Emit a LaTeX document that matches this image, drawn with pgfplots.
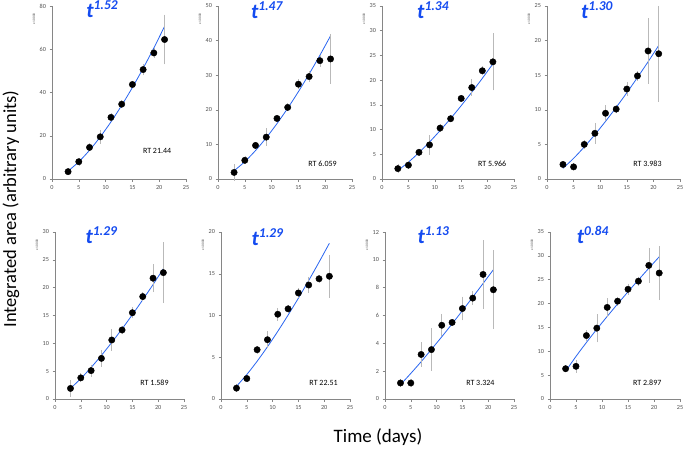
\documentclass[border=0pt]{standalone}
\usepackage{fontspec}
\setmainfont{Carlito}
\usepackage{pgfplots}
\usepackage{pgfplotstable}
\pgfplotsset{compat=1.18}

\definecolor{axisgray}{RGB}{134,134,134}
\definecolor{labelgray}{RGB}{80,80,80}
\definecolor{errgray}{RGB}{185,185,185}
\definecolor{fitblue}{RGB}{40,100,240}
\definecolor{tblue}{RGB}{20,75,240}

% measured points: day, area (x 10000), error
\pgfplotstableread{
x y e
3 3.4 0.5
5 8.0 0.8
7 14.6 0.8
9 19.5 2.2
11 28.5 0.8
13 34.6 0.8
15 43.7 0.8
17 50.6 1.6
19 58.3 1.2
21 64.5 10.5
}\dataA
\pgfplotstableread{
x y e
3 1.9 1.7
5 5.4 0.5
7 9.7 0.5
9 12.1 1.9
11 17.5 0.5
13 20.7 0.5
15 27.4 0.8
17 29.6 0.9
19 34.2 1.1
21 34.7 6.6
}\dataB
\pgfplotstableread{
x y e
3 2.1 0.4
5 2.8 0.3
7 5.4 0.3
9 6.9 1.5
11 10.3 0.3
13 12.2 0.3
15 16.3 0.3
17 18.5 1.2
19 21.9 0.5
21 23.7 5.3
}\dataC
\pgfplotstableread{
x y e
3 2.1 0.2
5 1.75 0.2
7 5.0 0.3
9 6.6 1.2
11 9.5 0.85
13 10.1 0.3
15 13.0 0.7
17 14.9 0.4
19 18.5 4.4
21 18.1 6.6
}\dataD
\pgfplotstableread{
x y e
3 1.9 1.1
5 3.8 0.4
7 5.1 0.7
9 7.3 1.1
11 10.6 1.5
13 12.4 0.4
15 15.5 0.6
17 18.4 0.4
19 21.7 2.1
21 22.7 5.1
}\dataE
\pgfplotstableread{
x y e
3 1.3 0.2
5 2.45 0.2
7 5.9 0.2
9 7.1 0.75
11 10.15 0.5
13 10.8 0.2
15 12.7 0.3
17 13.65 0.7
19 14.4 0.2
21 14.7 2.3
}\dataF
\pgfplotstableread{
x y e
3 1.15 0.1
5 1.15 0.1
7 3.2 0.71
9 3.55 1.37
11 5.3 0.65
13 5.5 0.1
15 6.5 0.69
17 7.25 0.33
19 8.95 2.3
21 7.85 2.67
}\dataG
\pgfplotstableread{
x y e
3 6.35 0.3
5 6.85 0.85
7 13.3 0.7
9 14.85 2.5
11 19.2 1.5
13 20.5 0.5
15 23.0 0.7
17 24.7 0.5
19 28.0 3.2
21 26.4 5.2
}\dataH

% fitted curves
\pgfplotstableread{
x a b c d e f g h
3 3.66 2.37 1.72 1.54 1.90 1.52 1.03 5.81
5 7.97 5.02 3.40 2.99 3.67 2.93 1.84 8.93
7 13.29 8.23 5.34 4.63 5.67 4.52 2.68 11.84
9 19.47 11.91 7.48 6.42 7.84 6.25 3.57 14.63
11 26.41 16.00 9.80 8.33 10.16 8.10 4.47 17.31
13 34.05 20.45 12.25 10.35 12.60 10.05 5.40 19.92
15 42.32 25.24 14.84 12.46 15.16 12.08 6.35 22.47
17 51.18 30.34 17.55 14.67 17.82 14.20 7.32 24.96
19 60.60 35.73 20.37 16.94 20.56 16.39 8.30 27.40
21 70.57 41.39 23.30 19.30 23.40 18.65 9.29 29.80
}\fits

\pgfplotsset{
  panel/.style={
    scale only axis, xmin=0, xmax=25, ymin=0,
    xtick={0,5,...,25},
    axis lines=left,
    axis line style={-, draw=axisgray, line width=0.6pt},
    tick style={draw=axisgray, line width=0.5pt},
    tick align=outside, major tick length=2.5pt,
    ticklabel style={font=\fontsize{6.2}{7}\selectfont, text=labelgray},
    /pgf/number format/assume math mode=true,
    clip=false, anchor=south west,
  },
  pts/.style={only marks, mark=*, mark size=3.2pt,
    mark options={draw=black, fill=black},
    error bars/.cd, y dir=both, y explicit,
    error bar style={draw=errgray, line width=0.6pt},
    error mark options={draw=errgray, mark size=2.2pt, line width=0.6pt}},
  fit/.style={no marks, smooth, fitblue, line width=0.8pt},
}

\newcommand{\tlab}[1]{{\fontsize{21}{21}\selectfont\bfseries\itshape t}{\fontsize{13.5}{14}\selectfont\bfseries\itshape\raisebox{7.5pt}{#1}}}
\newcommand{\scalelab}{\node[rotate=90, text=labelgray, font=\fontsize{3.5}{4}\selectfont]
  at ([xshift=-18pt,yshift=-13pt]rel axis cs:0,1) {x 10000};}

\begin{document}
\begin{tikzpicture}
\useasboundingbox (0,0) rectangle (685pt,-452pt);

% top row
\begin{axis}[panel, at={(52pt,-179pt)}, width=134pt, height=173pt, ymax=80, ytick={0,20,...,80}]
\addplot[fit] table[x=x,y=a] {\fits};
\addplot[pts] table[x=x,y=y,y error=e] {\dataA};
\node[anchor=base west, text=tblue] at (rel axis cs:0.23,0.935) {\tlab{1.52}};
\node[anchor=east, font=\fontsize{8}{9}\selectfont] at ({axis cs:22.9,0} |- {rel axis cs:0,0.16}) {RT 21.44};
\scalelab
\end{axis}

\begin{axis}[panel, at={(218pt,-179pt)}, width=134pt, height=173pt, ymax=50, ytick={0,10,...,50}]
\addplot[fit] table[x=x,y=b] {\fits};
\addplot[pts] table[x=x,y=y,y error=e] {\dataB};
\node[anchor=base west, text=tblue] at (rel axis cs:0.22,0.93) {\tlab{1.47}};
\node[anchor=east, font=\fontsize{8}{9}\selectfont] at ({axis cs:22.8,0} |- {rel axis cs:0,0.09}) {RT 6.059};
\scalelab
\end{axis}

\begin{axis}[panel, at={(382pt,-179pt)}, width=132pt, height=173pt, ymax=35, ytick={0,5,...,35}]
\addplot[fit] table[x=x,y=c] {\fits};
\addplot[pts] table[x=x,y=y,y error=e] {\dataC};
\node[anchor=base west, text=tblue] at (rel axis cs:0.24,0.93) {\tlab{1.34}};
\node[anchor=east, font=\fontsize{8}{9}\selectfont] at ({axis cs:24.2,0} |- {rel axis cs:0,0.09}) {RT 5.966};
\scalelab
\end{axis}

\begin{axis}[panel, at={(547pt,-179pt)}, width=133pt, height=173pt, ymax=25, ytick={0,5,...,25}]
\addplot[fit] table[x=x,y=d] {\fits};
\addplot[pts] table[x=x,y=y,y error=e] {\dataD};
\node[anchor=base west, text=tblue] at (rel axis cs:0.23,0.93) {\tlab{1.30}};
\node[anchor=east, font=\fontsize{8}{9}\selectfont] at ({axis cs:22.2,0} |- {rel axis cs:0,0.09}) {RT 3.983};
\scalelab
\end{axis}

% bottom row
\begin{axis}[panel, at={(55pt,-399pt)}, width=129pt, height=167pt, ymax=30, ytick={0,5,...,30}]
\addplot[fit] table[x=x,y=e] {\fits};
\addplot[pts] table[x=x,y=y,y error=e] {\dataE};
\node[anchor=base west, text=tblue] at (rel axis cs:0.21,0.934) {\tlab{1.29}};
\node[anchor=east, font=\fontsize{8}{9}\selectfont] at ({axis cs:22.7,0} |- {rel axis cs:0,0.096}) {RT 1.589};
\scalelab
\end{axis}

\begin{axis}[panel, at={(221pt,-399pt)}, width=129pt, height=167pt, ymax=20, ytick={0,5,...,20}]
\addplot[fit] table[x=x,y=f] {\fits};
\addplot[pts] table[x=x,y=y,y error=e] {\dataF};
\node[anchor=base west, text=tblue] at (rel axis cs:0.21,0.92) {\tlab{1.29}};
\node[anchor=east, font=\fontsize{8}{9}\selectfont] at ({axis cs:23.3,0} |- {rel axis cs:0,0.096}) {RT 22.51};
\scalelab
\end{axis}

\begin{axis}[panel, at={(385pt,-399pt)}, width=129pt, height=167pt, ymax=12, ytick={0,2,...,12}]
\addplot[fit] table[x=x,y=g] {\fits};
\addplot[pts] table[x=x,y=y,y error=e] {\dataG};
\node[anchor=base west, text=tblue] at (rel axis cs:0.225,0.934) {\tlab{1.13}};
\node[anchor=east, font=\fontsize{8}{9}\selectfont] at ({axis cs:21.9,0} |- {rel axis cs:0,0.096}) {RT 3.324};
\scalelab
\end{axis}

\begin{axis}[panel, at={(550pt,-399pt)}, width=130pt, height=167pt, ymax=35, ytick={0,5,...,35}]
\addplot[fit] table[x=x,y=h] {\fits};
\addplot[pts] table[x=x,y=y,y error=e] {\dataH};
\node[anchor=base west, text=tblue] at (rel axis cs:0.18,0.934) {\tlab{0.84}};
\node[anchor=east, font=\fontsize{8}{9}\selectfont] at ({axis cs:22.1,0} |- {rel axis cs:0,0.096}) {RT 2.897};
\scalelab
\end{axis}

\node[rotate=90, font=\fontsize{18.5}{20}\selectfont] at (11pt,-209pt) {Integrated area (arbitrary units)};
\node[font=\fontsize{19}{21}\selectfont] at (378pt,-437pt) {Time (days)};
\end{tikzpicture}
\end{document}
